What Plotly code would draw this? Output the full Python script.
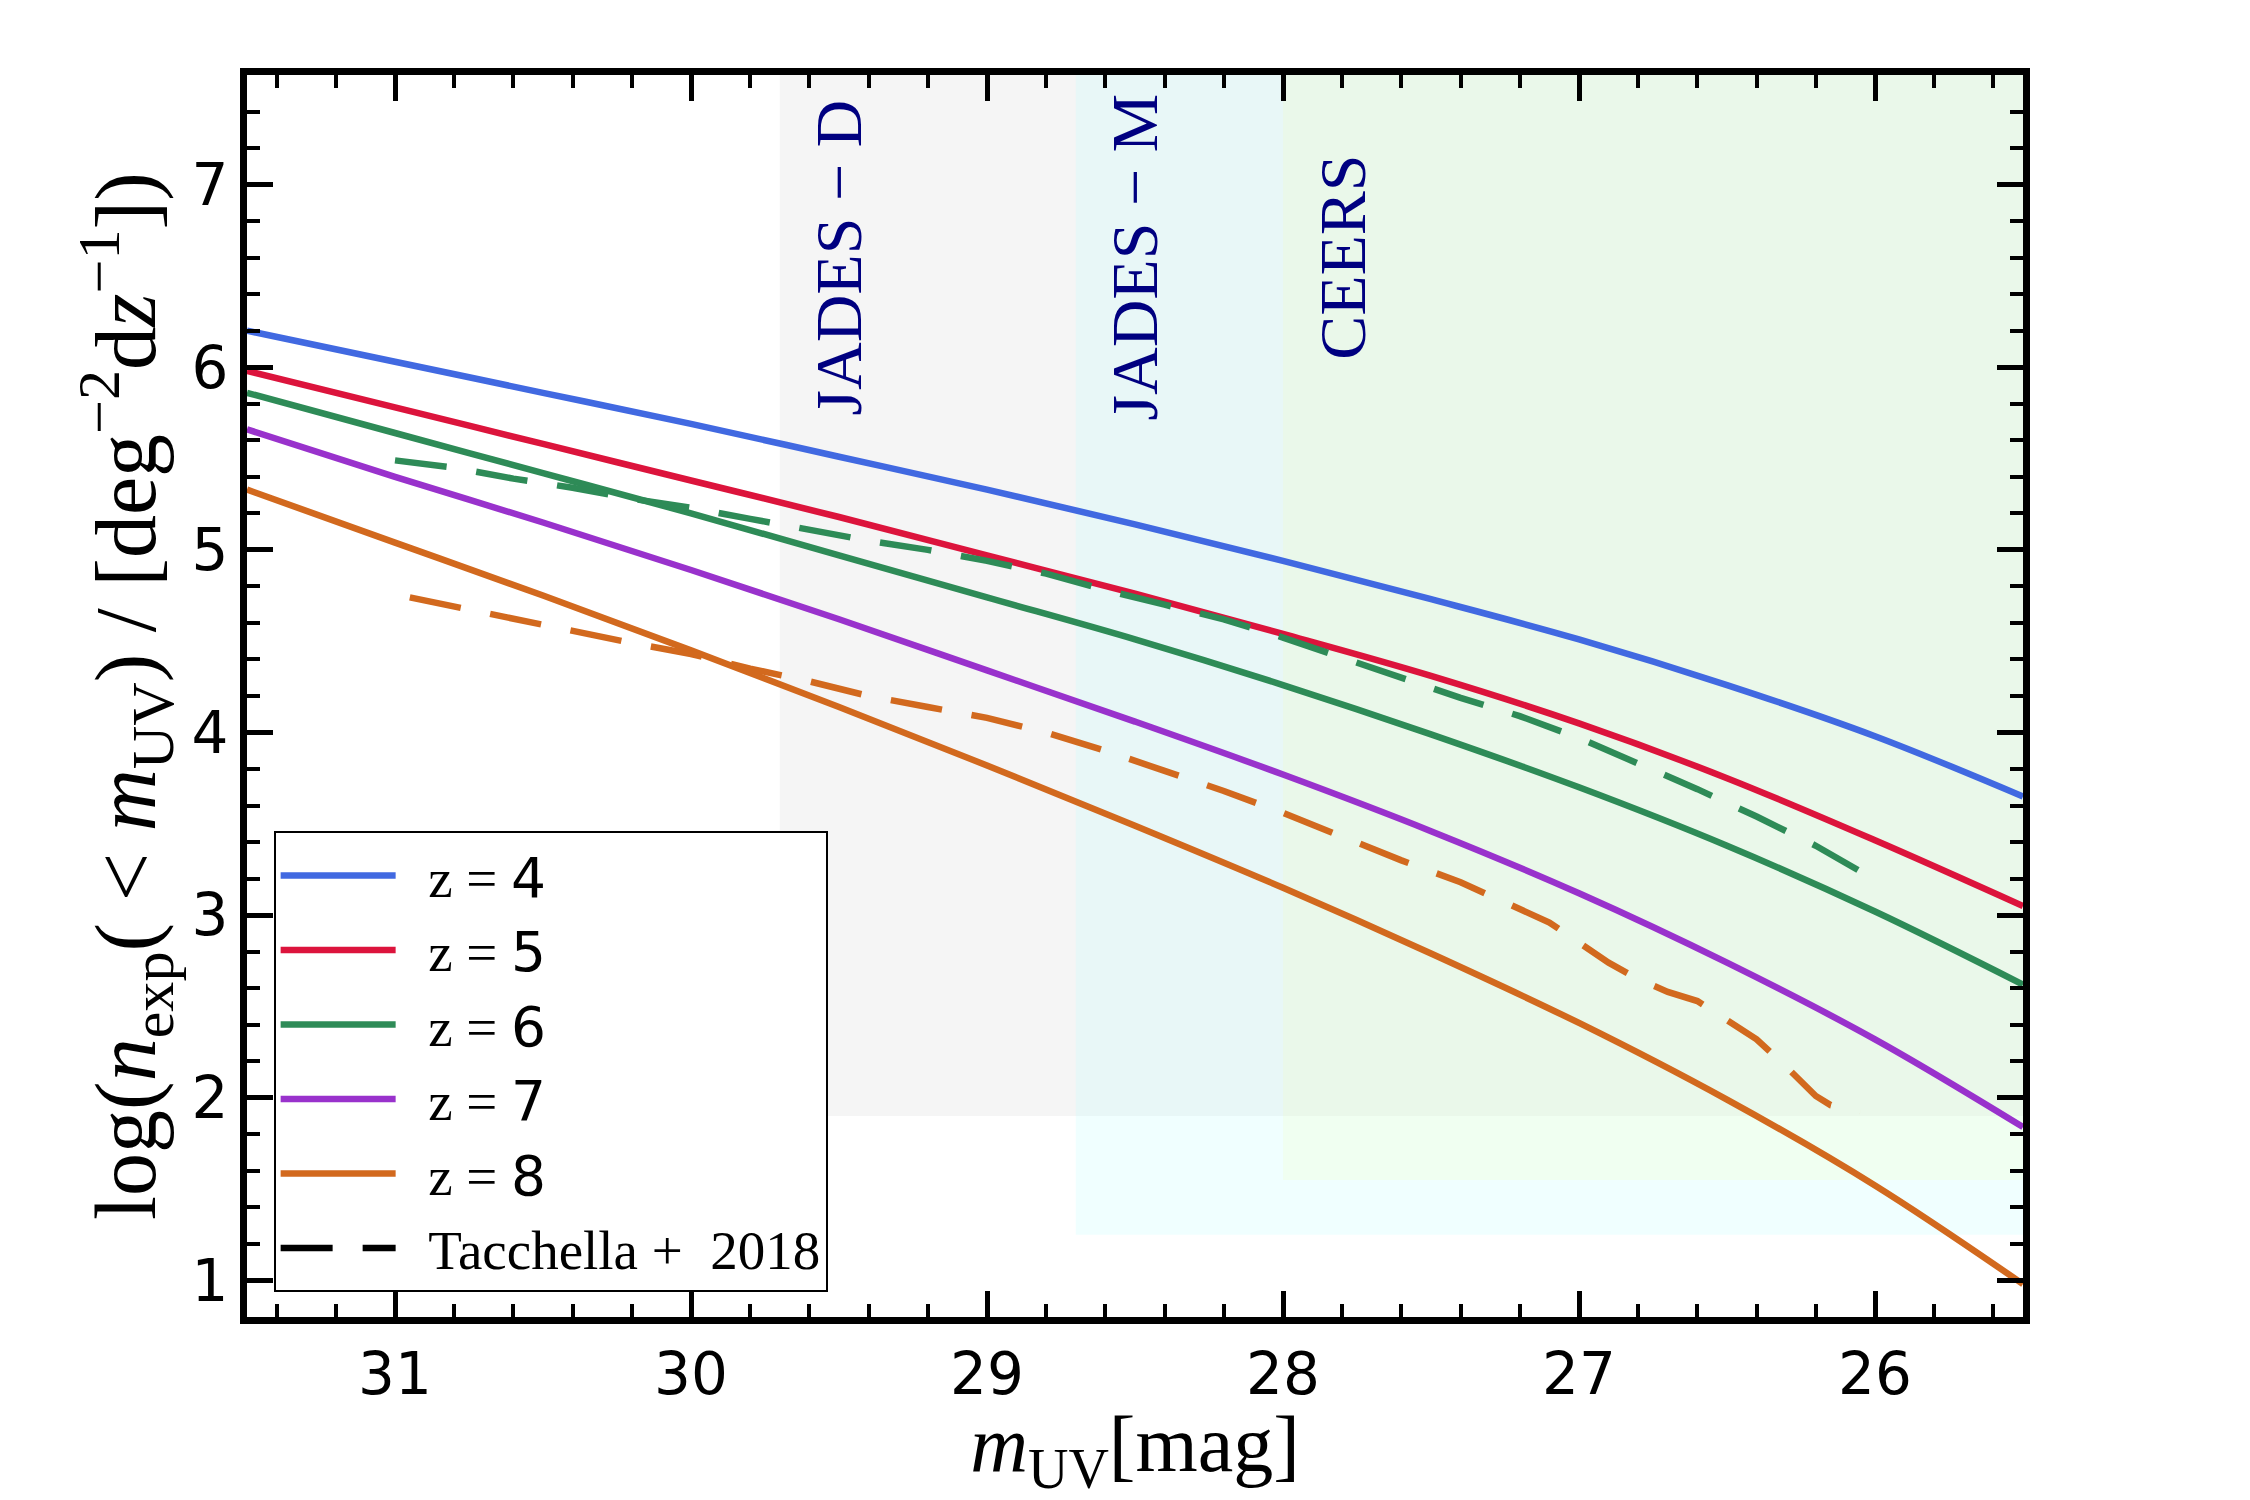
import plotly.graph_objects as go

# ---------------- data ----------------
m_uv = [31.5, 31.0, 30.5, 30.0, 29.5, 29.0, 28.5, 28.0, 27.5, 27.0, 26.5, 26.0, 25.5]
logn_z4 = [6.20, 6.03, 5.86, 5.69, 5.51, 5.33, 5.14, 4.94, 4.73, 4.51, 4.26, 3.98, 3.65]
logn_z5 = [5.98, 5.78, 5.58, 5.38, 5.18, 4.97, 4.76, 4.54, 4.31, 4.05, 3.75, 3.41, 3.05]
logn_z6 = [5.86, 5.64, 5.42, 5.20, 4.97, 4.74, 4.51, 4.26, 3.99, 3.70, 3.38, 3.02, 2.62]
logn_z7 = [5.66, 5.40, 5.15, 4.89, 4.62, 4.34, 4.06, 3.77, 3.46, 3.12, 2.74, 2.32, 1.84]
logn_z8 = [5.33, 5.04, 4.75, 4.45, 4.14, 3.82, 3.49, 3.15, 2.79, 2.41, 1.99, 1.52, 0.98]
redshifts = ["4", "5", "6", "7", "8"]

# Tacchella+2018
t18_z6_m = [31.0, 30.8, 30.6, 30.4, 30.2, 30.0, 29.8, 29.6, 29.4, 29.2, 29.0, 28.8, 28.6,
            28.4, 28.2, 28.0, 27.8, 27.6, 27.4, 27.2, 27.0, 26.8, 26.6, 26.4, 26.2, 26.05]
t18_z6_logn = [5.49, 5.45, 5.39, 5.34, 5.28, 5.23, 5.17, 5.11, 5.05, 5.00, 4.94, 4.87, 4.78,
               4.70, 4.62, 4.52, 4.41, 4.30, 4.19, 4.09, 3.97, 3.83, 3.69, 3.54, 3.38, 3.24]
t18_z8_m = [30.95, 30.8, 30.6, 30.4, 30.2, 30.0, 29.8, 29.6, 29.4, 29.2, 29.0, 28.8, 28.6,
            28.4, 28.2, 28.0, 27.8, 27.6, 27.4, 27.2, 27.1, 27.0, 26.9, 26.8, 26.7, 26.6,
            26.5, 26.4, 26.3, 26.2, 26.15, 26.05]
t18_z8_logn = [4.74, 4.69, 4.62, 4.55, 4.49, 4.43, 4.35, 4.28, 4.20, 4.14, 4.08, 4.00, 3.90,
               3.79, 3.68, 3.56, 3.43, 3.30, 3.18, 3.03, 2.96, 2.85, 2.74, 2.65, 2.58, 2.53,
               2.43, 2.32, 2.17, 2.01, 1.96, 1.92]

# survey depths
surveys = ["JADES − D", "JADES − M", "CEERS"]
survey_mag_limit = [29.7, 28.7, 28.0]
survey_logn_min = [1.9, 1.25, 1.55]

x_ticks = [31, 30, 29, 28, 27, 26]
y_ticks = [1, 2, 3, 4, 5, 6, 7]

# ---------------- style ----------------
X_RANGE = [31.5, 25.5]
Y_RANGE = [0.8, 7.6]
colors = ["#4169E1", "#DC143C", "#2E8B57", "#9932CC", "#D2691E"]
survey_fill = ["rgba(200,200,200,0.18)", "rgba(180,255,255,0.2)", "rgba(240,255,191,0.22)"]
SERIF = "Liberation Serif"
SANS = "DejaVu Sans"
LW = 6.5
DASH = "52px,30px"
SP = "\u2002"

fig = go.Figure()

for name, ymin, xlim, fc in zip(surveys, survey_logn_min, survey_mag_limit, survey_fill):
    fig.add_shape(type="rect", xref="x", yref="y", x0=xlim, x1=X_RANGE[1],
                  y0=ymin, y1=Y_RANGE[1], fillcolor=fc, line_width=0, layer="below")
    fig.add_annotation(x=xlim - 0.2, y=6.6, xref="x", yref="y", text=name,
                       textangle=-90, showarrow=False,
                       font=dict(family=SERIF, size=66, color="#000080"))

series = [logn_z4, logn_z5, logn_z6, logn_z7, logn_z8]
for z, ys, c in zip(redshifts, series, colors):
    fig.add_trace(go.Scatter(
        x=m_uv, y=ys, mode="lines", line=dict(color=c, width=LW, shape="spline", smoothing=1.0),
        name=f'{SP}z = <span style="font-family:{SANS}">{z}</span>'))

fig.add_trace(go.Scatter(x=t18_z6_m, y=t18_z6_logn, mode="lines",
                         line=dict(color=colors[2], width=LW, dash=DASH), showlegend=False))
fig.add_trace(go.Scatter(x=t18_z8_m, y=t18_z8_logn, mode="lines",
                         line=dict(color=colors[4], width=LW, dash=DASH), showlegend=False))
fig.add_trace(go.Scatter(x=[None], y=[None], mode="lines",
                         line=dict(color="black", width=LW, dash=DASH),
                         name=f"{SP}Tacchella +  2018"))

axis_common = dict(
    showgrid=False, zeroline=False, showline=True, linecolor="black", linewidth=7,
    mirror="allticks", ticks="inside", ticklen=26, tickwidth=5, tickcolor="black",
    tickfont=dict(family=SANS, size=58, color="black"),
    minor=dict(ticks="inside", ticklen=13, tickwidth=4, tickcolor="black", dtick=0.2),
)

fig.update_xaxes(range=X_RANGE, tickvals=x_ticks, ticktext=[str(v) for v in x_ticks],
                 title=dict(text="<i>m</i><sub>UV</sub>[mag]",
                            font=dict(family=SERIF, size=80, color="black"), standoff=24),
                 **axis_common)
fig.update_yaxes(range=Y_RANGE, tickvals=y_ticks, ticktext=[str(v) for v in y_ticks],
                 title=dict(text="log(<i>n</i><sub>exp</sub>( < <i>m</i><sub>UV</sub>) / [deg<sup>−2</sup>d<i>z</i><sup>−1</sup>])",
                            font=dict(family=SERIF, size=86, color="black"), standoff=10),
                 **axis_common)

fig.update_layout(
    width=2250, height=1500,
    margin=dict(l=247, r=227, t=75, b=183),
    paper_bgcolor="white", plot_bgcolor="white",
    showlegend=True,
    legend=dict(x=0.015, y=0.02, xanchor="left", yanchor="bottom",
                bgcolor="white", bordercolor="black", borderwidth=2,
                font=dict(family=SERIF, size=55, color="black"),
                itemwidth=115, tracegroupgap=0),
)

fig.write_html("out.html")
